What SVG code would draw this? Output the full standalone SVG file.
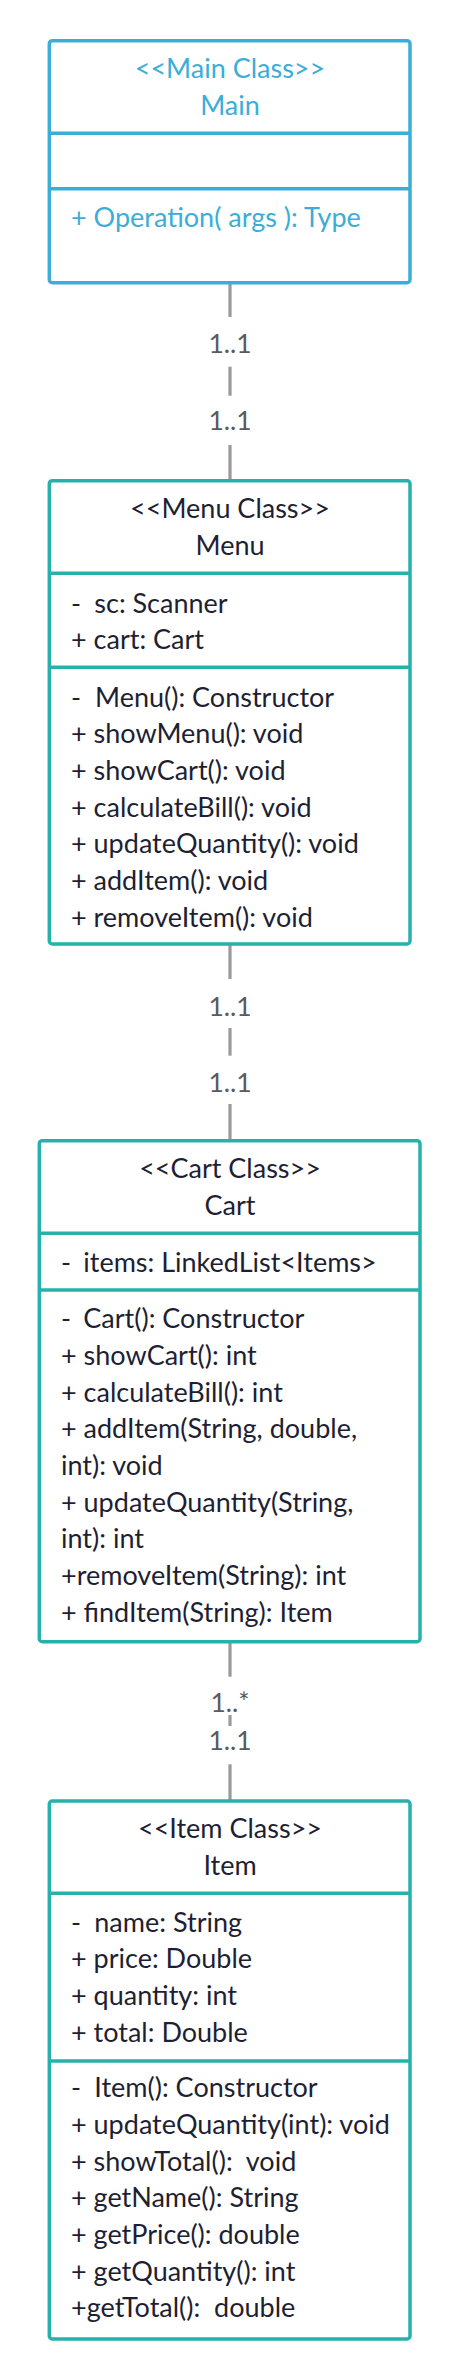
<svg xmlns="http://www.w3.org/2000/svg" width="460" height="2379" viewBox="0 0 460 2379">
<style>
.box{fill:#ffffff;stroke-width:3.5}
.blue{stroke:#3aaed8}
.teal{stroke:#27b1ab}
.div{stroke-width:3.5}
.t{font-family:Lato,"Liberation Sans",sans-serif;font-size:27px;fill:#1e1f33}
.tb{fill:#3aaed8}
.c{text-anchor:middle}
.ln{stroke:#9a9a9a;stroke-width:3.2;fill:none}
.lbl{font-family:Lato,"Liberation Sans",sans-serif;font-size:26.5px;fill:#5a5a5a;text-anchor:middle}
</style>
<rect width="460" height="2379" fill="#ffffff"/>
<g id="connectors">
<line class="ln" x1="230" y1="283" x2="230" y2="317"/>
<line class="ln" x1="230" y1="366.7" x2="230" y2="395.7"/>
<line class="ln" x1="230" y1="445" x2="230" y2="480"/>
<text class="lbl" x="230" y="352.7">1..1</text>
<text class="lbl" x="230" y="430">1..1</text>
<line class="ln" x1="230" y1="944" x2="230" y2="979"/>
<line class="ln" x1="230" y1="1028" x2="230" y2="1055.7"/>
<line class="ln" x1="230" y1="1104" x2="230" y2="1140"/>
<text class="lbl" x="230" y="1016">1..1</text>
<text class="lbl" x="230" y="1091.7">1..1</text>
<line class="ln" x1="230" y1="1642" x2="230" y2="1676.7"/>
<line class="ln" x1="230" y1="1715" x2="230" y2="1726"/>
<line class="ln" x1="230" y1="1764.3" x2="230" y2="1800.7"/>
<text class="lbl" x="230" y="1712.3">1..*</text>
<text class="lbl" x="230" y="1750">1..1</text>
</g>
<g id="main">
<rect class="box blue" x="49.3" y="40.7" width="360.7" height="242" rx="3"/>
<line class="div blue" x1="49.3" y1="133.3" x2="410" y2="133.3"/>
<line class="div blue" x1="49.3" y1="188.7" x2="410" y2="188.7"/>
<text class="t tb c" x="230" y="78.3">&lt;&lt;Main Class&gt;&gt;</text>
<text class="t tb c" x="230" y="115">Main</text>
<text class="t tb" x="71" y="226.7">+ Operation( args ): Type</text>
</g>
<g id="menu">
<rect class="box teal" x="49.3" y="480.7" width="360.7" height="463.3" rx="3"/>
<line class="div teal" x1="49.3" y1="573.3" x2="410" y2="573.3"/>
<line class="div teal" x1="49.3" y1="667.3" x2="410" y2="667.3"/>
<text class="t c" x="230" y="518.3">&lt;&lt;Menu Class&gt;&gt;</text>
<text class="t c" x="230" y="555">Menu</text>
<text class="t" x="71" y="612.7">-<tspan x="94.3">sc: Scanner</tspan></text>
<text class="t" x="71" y="649.3">+ cart: Cart</text>
<text class="t" x="71" y="706.7">-<tspan x="95">Menu(): Constructor</tspan></text>
<text class="t" x="71" y="743.3">+ showMenu(): void</text>
<text class="t" x="71" y="780">+ showCart(): void</text>
<text class="t" x="71" y="816.7">+ calculateBill(): void</text>
<text class="t" x="71" y="853.3">+ updateQuantity(): void</text>
<text class="t" x="71" y="890">+ addItem(): void</text>
<text class="t" x="71" y="926.7">+ removeItem(): void</text>
</g>
<g id="cart">
<rect class="box teal" x="39.3" y="1140.7" width="380.7" height="501" rx="3"/>
<line class="div teal" x1="39.3" y1="1233.3" x2="420" y2="1233.3"/>
<line class="div teal" x1="39.3" y1="1290" x2="420" y2="1290"/>
<text class="t c" x="230" y="1178">&lt;&lt;Cart Class&gt;&gt;</text>
<text class="t c" x="230" y="1214.7">Cart</text>
<text class="t" x="61" y="1271.7">-<tspan x="83.3">items: LinkedList&lt;Items&gt;</tspan></text>
<text class="t" x="61" y="1328.3">-<tspan x="83.3">Cart(): Constructor</tspan></text>
<text class="t" x="61" y="1365">+ showCart(): int</text>
<text class="t" x="61" y="1401.7">+ calculateBill(): int</text>
<text class="t" x="61" y="1438.3">+ addItem(String, double,</text>
<text class="t" x="61" y="1475">int): void</text>
<text class="t" x="61" y="1511.7">+ updateQuantity(String,</text>
<text class="t" x="61" y="1548.3">int): int</text>
<text class="t" x="61" y="1585">+removeItem(String): int</text>
<text class="t" x="61" y="1621.7">+ findItem(String): Item</text>
</g>
<g id="item">
<rect class="box teal" x="49.3" y="1801" width="360.7" height="538" rx="3"/>
<line class="div teal" x1="49.3" y1="1893.3" x2="410" y2="1893.3"/>
<line class="div teal" x1="49.3" y1="2061" x2="410" y2="2061"/>
<text class="t c" x="230" y="1838.3">&lt;&lt;Item Class&gt;&gt;</text>
<text class="t c" x="230" y="1875">Item</text>
<text class="t" x="71" y="1931.7">-<tspan x="94.3">name: String</tspan></text>
<text class="t" x="71" y="1968.3">+ price: Double</text>
<text class="t" x="71" y="2005">+ quantity: int</text>
<text class="t" x="71" y="2041.7">+ total: Double</text>
<text class="t" x="71" y="2097.3">-<tspan x="94.3">Item(): Constructor</tspan></text>
<text class="t" x="71" y="2134">+ updateQuantity(int): void</text>
<text class="t" x="71" y="2170.7" xml:space="preserve">+ showTotal():  void</text>
<text class="t" x="71" y="2207.3">+ getName(): String</text>
<text class="t" x="71" y="2244">+ getPrice(): double</text>
<text class="t" x="71" y="2280.7">+ getQuantity(): int</text>
<text class="t" x="71" y="2317.3" xml:space="preserve">+getTotal():  double</text>
</g>
</svg>
